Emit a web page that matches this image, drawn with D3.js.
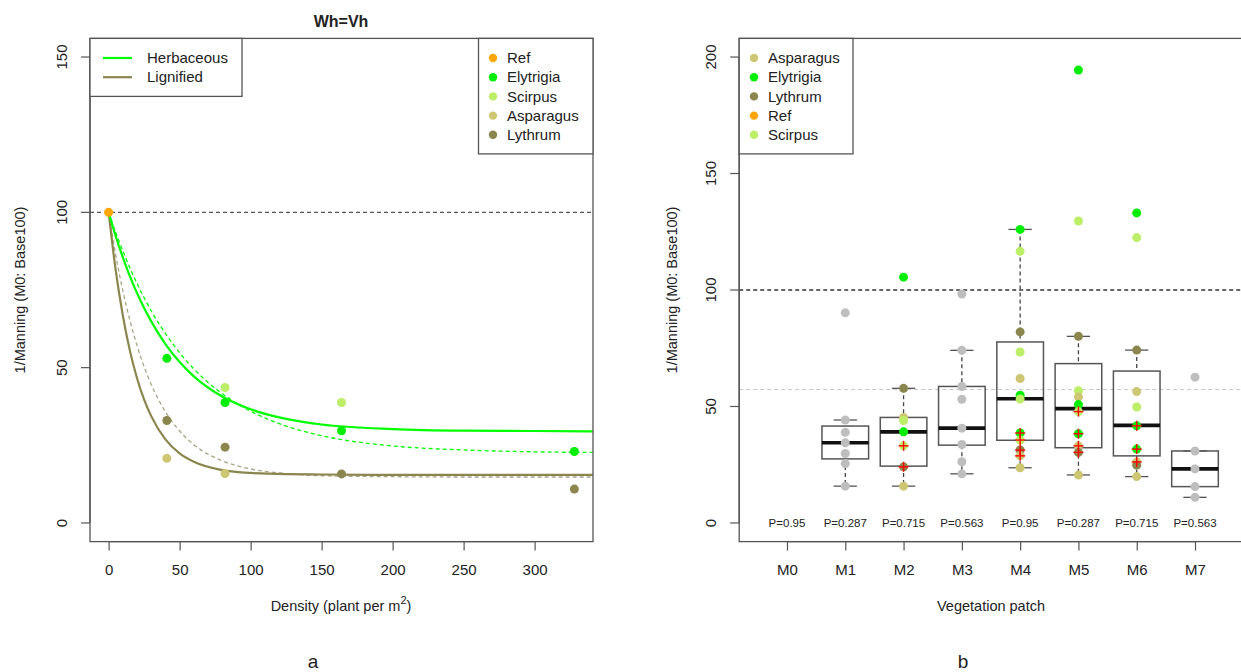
<!DOCTYPE html>
<html><head><meta charset="utf-8">
<script src="https://cdn.jsdelivr.net/npm/d3@7"></script>
<style>body{margin:0;background:#fff;} text{font-family:"Liberation Sans",Arial,Helvetica,sans-serif;fill:#222;}</style>
</head><body><svg id="c" width="1241" height="672"></svg>
<script>
// ---------- DATA ----------
// Left panel (a)
const leftSpeciesOrder = ["Ref","Elytrigia","Scirpus","Asparagus","Lythrum"];
const leftDensity = [0, 41, 41, 41, 82, 82, 82, 82, 164, 164, 164, 328, 328];
const leftValue   = [100, 53.0, 33.0, 20.8, 43.6, 38.8, 24.4, 15.9, 38.8, 29.7, 15.8, 23.0, 10.9];
const leftSpecies = ["Ref","Elytrigia","Lythrum","Asparagus","Scirpus","Elytrigia","Lythrum","Asparagus","Scirpus","Elytrigia","Lythrum","Elytrigia","Lythrum"];
const curveDensity = [0,5,10,15,20,25,30,40,50,60,80,100,125,150,200,250,300,341];
const herbSolid  = [100,92.3,85.5,79.4,74.0,69.2,64.9,57.6,51.8,47.2,40.7,36.6,33.5,31.7,30.2,29.7,29.6,29.5];
const herbDashed = [100,93.5,87.6,82.1,77.1,72.5,68.3,61.0,54.8,49.6,41.6,36.0,31.2,28.1,24.8,23.5,22.9,22.7];
const ligSolid   = [100,81.3,66.8,55.4,46.6,39.7,34.4,26.9,22.4,19.7,17.0,16.1,15.7,15.6,15.5,15.5,15.5,15.5];
const ligDashed  = [100,86.3,74.8,65.2,57.1,50.3,44.6,35.8,29.6,25.2,20.0,17.4,15.9,15.2,14.9,14.8,14.8,14.8];
const leftXTicks = [0,50,100,150,200,250,300];
const leftYTicks = [0,50,100,150];
const lineLegend = ["Herbaceous","Lignified"];

// Right panel (b)
const patches = ["M0","M1","M2","M3","M4","M5","M6","M7"];
const pLabels = ["P=0.95","P=0.287","P=0.715","P=0.563","P=0.95","P=0.287","P=0.715","P=0.563"];
const boxPatch = ["M1","M2","M3","M4","M5","M6","M7"];
const boxLow  = [15.8, 15.8, 21.1, 23.7, 20.6, 19.9, 11.0];
const boxQ1   = [27.5, 24.4, 33.4, 35.5, 32.3, 28.8, 15.6];
const boxMed  = [34.4, 39.1, 40.7, 53.3, 49.1, 41.9, 23.2];
const boxQ3   = [41.6, 45.3, 58.6, 77.7, 68.4, 65.2, 30.9];
const boxHigh = [44.2, 57.8, 74.1, 126.0, 80.1, 74.2, 30.9];
const ptPatch = ["M1","M1","M1","M1","M1","M1","M1",
  "M2","M2","M2","M2","M2","M2","M2","M2",
  "M3","M3","M3","M3","M3","M3","M3","M3",
  "M4","M4","M4","M4","M4","M4","M4","M4","M4","M4","M4","M4",
  "M5","M5","M5","M5","M5","M5","M5","M5","M5","M5","M5",
  "M6","M6","M6","M6","M6","M6","M6","M6","M6","M6",
  "M7","M7","M7","M7","M7"];
const ptValue = [90.2,44.2,38.9,34.4,29.8,25.5,15.8,
  105.5,57.8,45.3,44.0,39.1,33.1,24.1,15.8,
  98.3,74.1,58.6,53.1,40.7,33.7,26.3,21.1,
  126.0,116.6,82.0,73.4,62.0,54.8,53.2,38.6,35.6,31.3,28.8,23.7,
  194.4,129.6,80.1,56.8,54.1,50.8,47.8,38.3,33.1,30.3,20.6,
  133.1,122.5,74.2,56.4,49.8,41.7,31.7,26.2,24.8,19.9,
  62.6,30.9,23.2,15.6,11.0];
const ptSpecies = ["Other","Other","Other","Other","Other","Other","Other",
  "Elytrigia","Lythrum","Asparagus","Scirpus","Elytrigia","Scirpus","Lythrum","Asparagus",
  "Other","Other","Other","Other","Other","Other","Other","Other",
  "Elytrigia","Scirpus","Lythrum","Scirpus","Asparagus","Elytrigia","Scirpus","Elytrigia","Scirpus","Lythrum","Asparagus","Asparagus",
  "Elytrigia","Scirpus","Lythrum","Scirpus","Asparagus","Elytrigia","Scirpus","Elytrigia","Asparagus","Lythrum","Asparagus",
  "Elytrigia","Scirpus","Lythrum","Asparagus","Scirpus","Elytrigia","Elytrigia","Asparagus","Lythrum","Asparagus",
  "Other","Other","Other","Other","Other"];
const crossPatch = ["M2","M2","M4","M4","M4","M4","M5","M5","M5","M5","M6","M6","M6"];
const crossValue = [33.1,24.1,38.6,35.6,31.3,28.8,47.8,38.3,33.1,30.3,41.7,31.7,26.2];
const rightSpeciesOrder = ["Asparagus","Elytrigia","Lythrum","Ref","Scirpus"];
const rightXTicks = patches;
const rightYTicks = [0,50,100,150,200];
const refLineValue = 100;
const meanLineValue = 57.3;

// ---------- STYLE ----------
const colors = {Ref:"#FFA500", Elytrigia:"#00EE00", Scirpus:"#BCEE68", Asparagus:"#CDC673", Lythrum:"#8B864E", Other:"#BEBEBE"};
const frameCol = "#555";

const svg = d3.select("#c");

// ---------- LEFT PANEL ----------
const xL = d3.scaleLinear().domain([-13.12, 341.12]).range([90, 593]);
const yL = d3.scaleLinear().domain([-6, 156]).range([541.6, 38.4]);
const gL = svg.append("g");
gL.append("clipPath").attr("id","clipL").append("rect")
  .attr("x", xL(-13.12)).attr("y", yL(156)).attr("width", xL(341.12)-xL(-13.12)).attr("height", yL(-6)-yL(156));

// reference dashed line
gL.append("line").attr("x1", xL(-13.12)).attr("x2", xL(341.12)).attr("y1", yL(100)).attr("y2", yL(100))
  .attr("stroke","#555").attr("stroke-width",1.3).attr("stroke-dasharray","4,3");

const lineGen = arr => d3.line().x((d,i)=>xL(curveDensity[i])).y(d=>yL(d)).curve(d3.curveMonotoneX)(arr);
const curves = gL.append("g").attr("clip-path","url(#clipL)");
curves.append("path").attr("d", lineGen(ligDashed)).attr("fill","none").attr("stroke","#ABA588").attr("stroke-width",1.3).attr("stroke-dasharray","4,3");
curves.append("path").attr("d", lineGen(herbDashed)).attr("fill","none").attr("stroke","#00FF00").attr("stroke-width",1.3).attr("stroke-dasharray","4,3");
curves.append("path").attr("d", lineGen(ligSolid)).attr("fill","none").attr("stroke","#8B864E").attr("stroke-width",2.2);
curves.append("path").attr("d", lineGen(herbSolid)).attr("fill","none").attr("stroke","#00FF00").attr("stroke-width",2.2);

gL.selectAll("circle.pt").data(leftValue).enter().append("circle")
  .attr("cx",(d,i)=>xL(leftDensity[i])).attr("cy",d=>yL(d)).attr("r",4.5)
  .attr("fill",(d,i)=>colors[leftSpecies[i]]);

// frame
gL.append("rect").attr("x", xL(-13.12)).attr("y", yL(156)).attr("width", xL(341.12)-xL(-13.12)).attr("height", yL(-6)-yL(156))
  .attr("fill","none").attr("stroke",frameCol).attr("stroke-width",1.3);

// x axis
const axL = gL.append("g").attr("transform",`translate(0,${yL(-6)})`)
  .call(d3.axisBottom(xL).tickValues(leftXTicks).tickSize(9).tickPadding(14).tickFormat(d3.format("d")));
axL.select(".domain").remove();
axL.append("line").attr("x1",xL(0)).attr("x2",xL(300)).attr("stroke",frameCol).attr("stroke-width",1.3);
axL.selectAll(".tick line").attr("stroke",frameCol).attr("stroke-width",1.2);
axL.selectAll(".tick text").attr("font-size",15).attr("fill","#222").attr("font-family","Liberation Sans, Arial");

// y axis
const ayL = gL.append("g").attr("transform",`translate(${xL(-13.12)},0)`);
ayL.append("line").attr("y1",yL(0)).attr("y2",yL(150)).attr("stroke",frameCol).attr("stroke-width",1.3);
leftYTicks.forEach(t=>{
  ayL.append("line").attr("x1",0).attr("x2",-9).attr("y1",yL(t)).attr("y2",yL(t)).attr("stroke",frameCol).attr("stroke-width",1.2);
  ayL.append("text").attr("transform",`translate(-28,${yL(t)}) rotate(-90)`).attr("text-anchor","middle").attr("dy","0.35em").attr("font-size",15).text(t);
});

// titles
svg.append("text").attr("x",341).attr("y",27).attr("text-anchor","middle").attr("font-size",16).attr("font-weight","bold").text("Wh=Vh");
const xt = svg.append("text").attr("x",341).attr("y",611).attr("text-anchor","middle").attr("font-size",14.5);
xt.append("tspan").text("Density (plant per m");
xt.append("tspan").attr("dy",-7).attr("font-size",11).text("2");
xt.append("tspan").attr("dy",7).text(")");
svg.append("text").attr("transform","translate(20,290) rotate(-90)").attr("text-anchor","middle").attr("dy","0.35em").attr("font-size",14.5).text("1/Manning (M0: Base100)");
svg.append("text").attr("x",313).attr("y",668).attr("text-anchor","middle").attr("font-size",19).text("a");

// legends left
const lg1 = gL.append("g");
lg1.append("rect").attr("x",90).attr("y",yL(156)).attr("width",152).attr("height",58).attr("fill","#fff").attr("stroke",frameCol).attr("stroke-width",1.3);
lineLegend.forEach((n,i)=>{
  const y = 58 + i*19.2;
  lg1.append("line").attr("x1",103).attr("x2",132).attr("y1",y).attr("y2",y).attr("stroke", i===0?"#00FF00":"#8B864E").attr("stroke-width",2.2);
  lg1.append("text").attr("x",147).attr("y",y).attr("dy","0.35em").attr("font-size",15).text(n);
});
const lg2 = gL.append("g");
lg2.append("rect").attr("x",478.5).attr("y",yL(156)).attr("width",593-478.5).attr("height",115.5).attr("fill","#fff").attr("stroke",frameCol).attr("stroke-width",1.3);
leftSpeciesOrder.forEach((n,i)=>{
  const y = 58 + i*19.2;
  lg2.append("circle").attr("cx",493).attr("cy",y).attr("r",4.2).attr("fill",colors[n]);
  lg2.append("text").attr("x",507).attr("y",y).attr("dy","0.35em").attr("font-size",15).text(n);
});

// ---------- RIGHT PANEL ----------
const xR = d3.scaleLinear().domain([0.18, 8.82]).range([739.2, 1242.8]);
const px = p => xR(patches.indexOf(p) + 1);
const yR = d3.scaleLinear().domain([-8, 208]).range([541.6, 38.4]);
const gR = svg.append("g");
const unit = xR(2) - xR(1);

gR.append("line").attr("x1",xR(0.18)).attr("x2",xR(8.82)).attr("y1",yR(meanLineValue)).attr("y2",yR(meanLineValue))
  .attr("stroke","#C8C8C8").attr("stroke-width",1.2).attr("stroke-dasharray","4,3");
gR.append("line").attr("x1",xR(0.18)).attr("x2",xR(8.82)).attr("y1",yR(refLineValue)).attr("y2",yR(refLineValue))
  .attr("stroke","#333").attr("stroke-width",1.3).attr("stroke-dasharray","4,3");

const boxes = gR.selectAll("g.box").data(boxPatch).enter().append("g");
boxes.each(function(p,i){
  const g = d3.select(this), cx = px(p), hw = unit*0.4, cw = unit*0.2;
  g.append("line").attr("x1",cx).attr("x2",cx).attr("y1",yR(boxHigh[i])).attr("y2",yR(boxQ3[i])).attr("stroke","#444").attr("stroke-width",1.3).attr("stroke-dasharray","4,3");
  g.append("line").attr("x1",cx).attr("x2",cx).attr("y1",yR(boxQ1[i])).attr("y2",yR(boxLow[i])).attr("stroke","#444").attr("stroke-width",1.3).attr("stroke-dasharray","4,3");
  g.append("line").attr("x1",cx-cw).attr("x2",cx+cw).attr("y1",yR(boxHigh[i])).attr("y2",yR(boxHigh[i])).attr("stroke","#555").attr("stroke-width",1.3);
  g.append("line").attr("x1",cx-cw).attr("x2",cx+cw).attr("y1",yR(boxLow[i])).attr("y2",yR(boxLow[i])).attr("stroke","#555").attr("stroke-width",1.3);
  g.append("rect").attr("x",cx-hw).attr("width",2*hw).attr("y",yR(boxQ3[i])).attr("height",yR(boxQ1[i])-yR(boxQ3[i]))
    .attr("fill","none").attr("stroke","#555").attr("stroke-width",1.5);
  g.append("line").attr("x1",cx-hw).attr("x2",cx+hw).attr("y1",yR(boxMed[i])).attr("y2",yR(boxMed[i])).attr("stroke","#111").attr("stroke-width",3.6);
});

gR.selectAll("circle.pt").data(ptValue).enter().append("circle")
  .attr("cx",(d,i)=>px(ptPatch[i])).attr("cy",d=>yR(d)).attr("r",4.5)
  .attr("fill",(d,i)=>colors[ptSpecies[i]]);

const crosses = gR.selectAll("g.cross").data(crossValue).enter().append("g")
  .attr("transform",(d,i)=>`translate(${px(crossPatch[i])},${yR(d)})`);
crosses.append("line").attr("x1",-5).attr("x2",5).attr("stroke","#FF0000").attr("stroke-width",1.4);
crosses.append("line").attr("y1",-5).attr("y2",5).attr("stroke","#FF0000").attr("stroke-width",1.4);

gR.selectAll("text.p").data(pLabels).enter().append("text")
  .attr("x",(d,i)=>px(patches[i])).attr("y",yR(0)).attr("dy","0.35em").attr("text-anchor","middle").attr("font-size",11.5).attr("fill","#333").text(d=>d);

// frame
gR.append("rect").attr("x", xR(0.18)).attr("y", yR(208)).attr("width", xR(8.82)-xR(0.18)).attr("height", yR(-8)-yR(208))
  .attr("fill","none").attr("stroke",frameCol).attr("stroke-width",1.3);

// x axis
const scP = d3.scalePoint().domain(patches).range([xR(1), xR(8)]);
const axR = gR.append("g").attr("transform",`translate(0,${yR(-8)})`)
  .call(d3.axisBottom(scP).tickSize(9).tickPadding(14));
axR.select(".domain").remove();
axR.append("line").attr("x1",xR(1)).attr("x2",xR(8)).attr("stroke",frameCol).attr("stroke-width",1.3);
axR.selectAll(".tick line").attr("stroke",frameCol).attr("stroke-width",1.2);
axR.selectAll(".tick text").attr("font-size",15).attr("fill","#222").attr("font-family","Liberation Sans, Arial");

// y axis
const ayR = gR.append("g").attr("transform",`translate(${xR(0.18)},0)`);
ayR.append("line").attr("y1",yR(0)).attr("y2",yR(200)).attr("stroke",frameCol).attr("stroke-width",1.3);
rightYTicks.forEach(t=>{
  ayR.append("line").attr("x1",0).attr("x2",-9).attr("y1",yR(t)).attr("y2",yR(t)).attr("stroke",frameCol).attr("stroke-width",1.2);
  ayR.append("text").attr("transform",`translate(-28,${yR(t)}) rotate(-90)`).attr("text-anchor","middle").attr("dy","0.35em").attr("font-size",15).text(t);
});

svg.append("text").attr("x",991).attr("y",611).attr("text-anchor","middle").attr("font-size",14.5).text("Vegetation patch");
svg.append("text").attr("transform","translate(672,290) rotate(-90)").attr("text-anchor","middle").attr("dy","0.35em").attr("font-size",14.5).text("1/Manning (M0: Base100)");
svg.append("text").attr("x",963).attr("y",668).attr("text-anchor","middle").attr("font-size",19).text("b");

// legend right
const lg3 = gR.append("g");
lg3.append("rect").attr("x",xR(0.18)).attr("y",yR(208)).attr("width",853-xR(0.18)).attr("height",115.5).attr("fill","#fff").attr("stroke",frameCol).attr("stroke-width",1.3);
rightSpeciesOrder.forEach((n,i)=>{
  const y = 58 + i*19.2;
  lg3.append("circle").attr("cx",754).attr("cy",y).attr("r",4.2).attr("fill",colors[n]);
  lg3.append("text").attr("x",768).attr("y",y).attr("dy","0.35em").attr("font-size",15).text(n);
});
</script></body></html>
